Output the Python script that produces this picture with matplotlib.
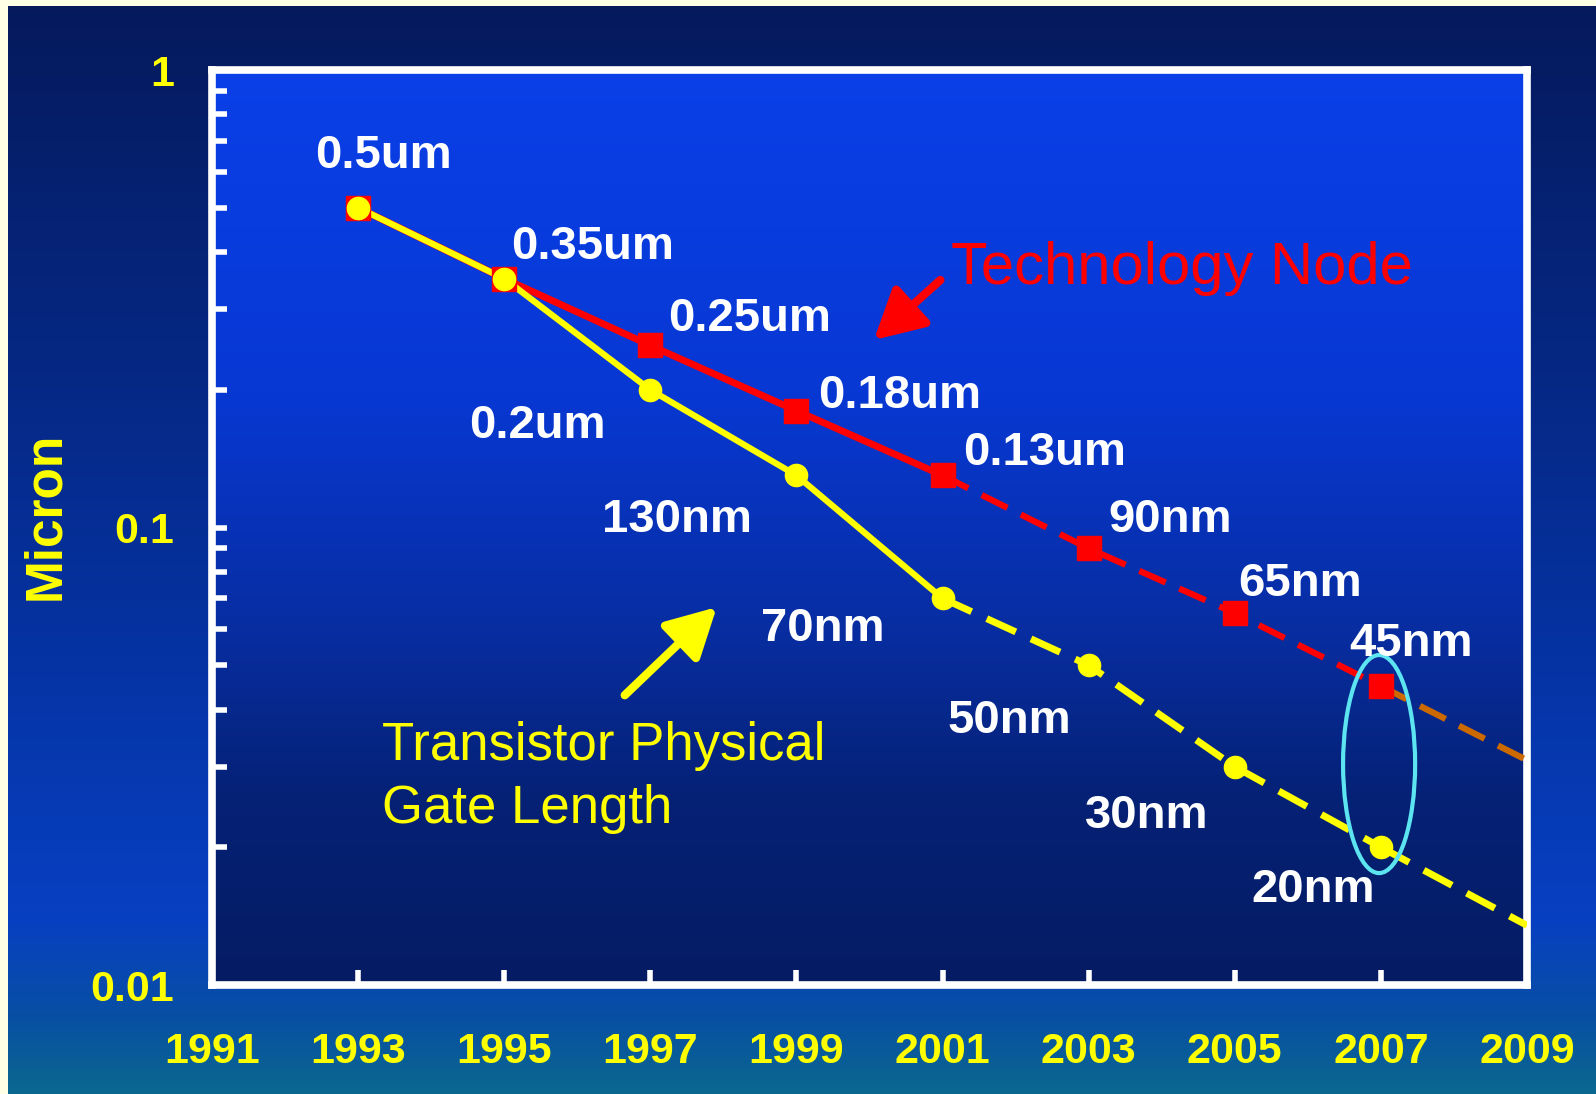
import numpy as np
import matplotlib.pyplot as plt
from matplotlib.patches import Ellipse
from matplotlib.ticker import FixedLocator, LogLocator, NullFormatter

plt.rcParams["font.family"] = ["Liberation Sans", "DejaVu Sans"]

# Feature size per year (micron)
years = [1993, 1995, 1997, 1999, 2001, 2003, 2005, 2007]
node_size = [0.5, 0.35, 0.25, 0.18, 0.13, 0.09, 0.065, 0.045]
node_labels = ["0.5um", "0.35um", "0.25um", "0.18um", "0.13um", "90nm", "65nm", "45nm"]
gate_length = [0.5, 0.35, 0.2, 0.13, 0.07, 0.05, 0.03, 0.02]
gate_labels = ["", "", "0.2um", "130nm", "70nm", "50nm", "30nm", "20nm"]

# Projection past 2007
proj_years = [2007, 2009]
node_proj = [0.045, 0.031]
gate_proj = [0.02, 0.0135]

x_ticks = [1991, 1993, 1995, 1997, 1999, 2001, 2003, 2005, 2007, 2009]
y_ticks = [0.01, 0.1, 1]
y_tick_labels = ["0.01", "0.1", "1"]

# Label offsets from each point, in pixels (dx, dy)
node_offsets = [(25, 52), (88, 32), (99, 26), (103, 15), (102, 22), (81, 28), (65, 29), (30, 42)]
gate_offsets = [(0, 0), (0, 0), (-113, -36), (-120, -45), (-120, -31), (-79, -56), (-88, -49), (-68, -43)]

W, H = 1596, 1094
ax_rect = [0.1328, 0.0996, 0.824, 0.8364]


def vertical_gradient(n_rows, stops, colors):
    t = np.linspace(0, 1, n_rows)
    cols = np.array(colors)
    return np.stack([np.interp(t, stops, cols[:, i]) for i in range(3)], axis=1)


# Slide background: dark navy at the top, brighter blue lower down, teal at the bottom
outer = vertical_gradient(
    H,
    [0.0, 0.3, 0.6, 0.84, 0.93, 1.0],
    [(0.02, 0.10, 0.36), (0.02, 0.15, 0.50), (0.02, 0.20, 0.64),
     (0.03, 0.25, 0.76), (0.03, 0.31, 0.64), (0.04, 0.41, 0.56)],
)
img = np.repeat(outer[:, None, :], W, axis=1)

# Plot area: bright blue fading to dark navy
x0 = int(round(ax_rect[0] * W))
x1 = int(round((ax_rect[0] + ax_rect[2]) * W))
y0 = int(round((1 - ax_rect[1] - ax_rect[3]) * H))
y1 = int(round((1 - ax_rect[1]) * H))
inner = vertical_gradient(
    y1 - y0,
    [0.0, 0.35, 0.6, 0.8, 1.0],
    [(0.04, 0.25, 0.91), (0.03, 0.22, 0.83), (0.03, 0.18, 0.64),
     (0.02, 0.13, 0.46), (0.02, 0.11, 0.39)],
)
img[y0:y1, x0:x1] = inner[:, None, :]

# Cream margin on the top and left edges
cream = (1.0, 1.0, 0.9)
img[:6, :] = cream
img[:, :8] = cream

fig = plt.figure(figsize=(W / 100, H / 100), dpi=100)
bg = fig.add_axes([0, 0, 1, 1], zorder=-10)
bg.imshow(img, extent=[0, 1, 0, 1], aspect="auto", interpolation="nearest")
bg.axis("off")

ax = fig.add_axes(ax_rect)
ax.patch.set_alpha(0)

red = "#ff0000"
yellow = "#ffff00"
brown = "#cc6a00"

# Technology node: solid up to 2001, dashed afterwards
ax.plot(years[:5], node_size[:5], color=red, lw=5, zorder=3)
ax.plot(years[4:], node_size[4:], color=red, lw=4.5, dashes=(4.6, 2.4),
        dash_capstyle="butt", zorder=3)
ax.plot(proj_years, node_proj, color=brown, lw=4.5, dashes=(4.6, 2.4),
        dash_capstyle="butt", zorder=3)
ax.plot(years, node_size, ls="none", marker="s", ms=17, color=red, zorder=5)

# Physical gate length
ax.plot(years[:5], gate_length[:5], color=yellow, lw=4.5, zorder=4)
ax.plot(years[4:], gate_length[4:], color=yellow, lw=5, dashes=(4.6, 2.4),
        dash_capstyle="butt", zorder=4)
ax.plot(proj_years, gate_proj, color=yellow, lw=5, dashes=(4.6, 2.4),
        dash_capstyle="butt", zorder=4)
ax.plot(years, gate_length, ls="none", marker="o", ms=16, color=yellow, zorder=6)

for x, y, lab, (dx, dy) in zip(years, node_size, node_labels, node_offsets):
    ax.annotate(lab, (x, y), xytext=(dx, dy), textcoords="offset pixels",
                ha="center", va="center", color="white", fontsize=34,
                fontweight="bold", zorder=7)
for x, y, lab, (dx, dy) in zip(years, gate_length, gate_labels, gate_offsets):
    if lab:
        ax.annotate(lab, (x, y), xytext=(dx, dy), textcoords="offset pixels",
                    ha="center", va="center", color="white", fontsize=34,
                    fontweight="bold", zorder=7)

# Callouts
ax.text(2001.12, 0.368, "Technology Node", color=red, fontsize=43,
        ha="left", va="center")
ax.annotate("", xy=(2000.06, 0.257), xytext=(2000.97, 0.3475),
            arrowprops=dict(arrowstyle="-|>,head_length=1.3,head_width=0.7",
                            mutation_scale=23, lw=6, color=red,
                            shrinkA=0, shrinkB=0))
ax.text(1993.33, 0.0284, "Transistor Physical\nGate Length", color=yellow,
        fontsize=38, ha="left", va="center", linespacing=1.32)
ax.annotate("", xy=(1997.91, 0.067), xytext=(1996.65, 0.043),
            arrowprops=dict(arrowstyle="-|>,head_length=1.3,head_width=0.7",
                            mutation_scale=23, lw=6, color=yellow,
                            shrinkA=0, shrinkB=0))

# Ring around the 2007 pair
ax.add_patch(Ellipse((0.8875, 0.2415), 0.0548, 0.2383, transform=ax.transAxes,
                     fill=False, ec="#5ce4f0", lw=3, zorder=4.5))

# Axes
ax.set_xlim(1991, 2009)
ax.set_yscale("log")
ax.set_ylim(0.01, 1)
ax.xaxis.set_major_locator(FixedLocator(x_ticks))
ax.set_xticklabels([str(x) for x in x_ticks])
ax.yaxis.set_major_locator(FixedLocator(y_ticks))
ax.set_yticklabels(y_tick_labels)
ax.yaxis.set_minor_locator(LogLocator(base=10, subs=np.arange(2, 10)))
ax.yaxis.set_minor_formatter(NullFormatter())

for side in ax.spines.values():
    side.set_color("white")
    side.set_linewidth(5.5)

ax.tick_params(axis="both", which="both", direction="in", color="white",
               length=11, width=4, labelcolor=yellow, labelsize=31)
ax.tick_params(axis="x", pad=34)
ax.tick_params(axis="y", pad=27)
for lab in ax.get_xticklabels() + ax.get_yticklabels():
    lab.set_fontweight("bold")

ax.set_ylabel("Micron", color=yellow, fontsize=37, fontweight="bold")
ax.yaxis.set_label_coords(-0.108, 0.513)

fig.savefig("out.png", dpi=100)
